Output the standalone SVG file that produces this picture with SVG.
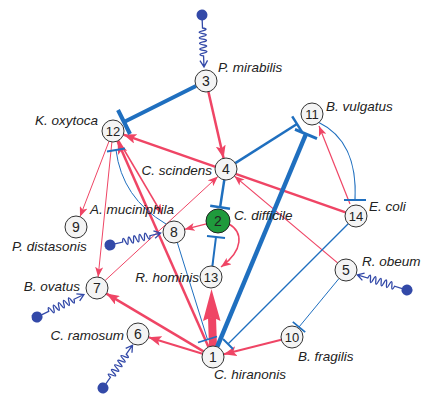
<svg xmlns="http://www.w3.org/2000/svg" xmlns:xlink="http://www.w3.org/1999/xlink" width="422" height="394" viewBox="0 0 422 394">
<style>
.p{stroke:#ef4565;fill:none}
.b{stroke:#1f6fbf;fill:none}
.n circle{fill:#f4f4f4;stroke:#333;stroke-width:1}
.num{font-family:"Liberation Sans",Arial,sans-serif;font-size:14px;fill:#222;text-anchor:middle}
.lab{font-family:"Liberation Sans",Arial,sans-serif;font-size:13.5px;font-style:italic;fill:#222}
</style>
<defs>
<marker id="aM" viewBox="0 0 13 10" refX="13" refY="5" markerWidth="13" markerHeight="10" markerUnits="userSpaceOnUse" orient="auto"><path d="M0,0 L13,5 L0,10 L3,5 Z" fill="#ef4565"/></marker>
<marker id="aS" viewBox="0 0 10 8" refX="10" refY="4" markerWidth="10" markerHeight="8" markerUnits="userSpaceOnUse" orient="auto"><path d="M0,0 L10,4 L0,8 L2.5,4 Z" fill="#ef4565"/></marker>
<g id="wave"><circle r="5.5" fill="#3349a8"/><path d="M5,0 L13,0 q1.4,-7 2.8,0 q1.4,7 2.8,0 q1.4,-7 2.8,0 q1.4,7 2.8,0 q1.4,-7 2.8,0 q1.4,7 2.8,0 q1.4,-7 2.8,0 q1.4,7 2.8,0 q1.4,-7 2.8,0 q1.4,7 2.8,0 L52,0 M45.5,-3.8 L52,0 L45.5,3.8" fill="none" stroke="#3349a8" stroke-width="1.3"/></g>
</defs>
<rect width="422" height="394" fill="#fff"/>
<g id="connectors">
<line class="p" x1="208.4" y1="91.7" x2="223.6" y2="158.3" stroke-width="2.5" marker-end="url(#aM)"/>
<line class="p" x1="109" y1="141.3" x2="80" y2="216.7" stroke-width="1" marker-end="url(#aS)"/>
<line class="p" x1="111.9" y1="142" x2="98.1" y2="277" stroke-width="1" marker-end="url(#aS)"/>
<line class="p" x1="118.6" y1="140.5" x2="162" y2="214" stroke-width="1.5" marker-end="url(#aS)"/>
<line class="p" x1="208.5" y1="347" x2="117.5" y2="141" stroke-width="2.5" marker-end="url(#aM)"/>
<line class="p" x1="345.6" y1="212.4" x2="123.4" y2="134.6" stroke-width="2.5" marker-end="url(#aM)"/>
<line class="p" x1="105.1" y1="280.5" x2="217.9" y2="176.5" stroke-width="1" marker-end="url(#aS)"/>
<line class="p" x1="337.6" y1="262.9" x2="234.4" y2="176.1" stroke-width="1.2" marker-end="url(#aS)"/>
<line class="p" x1="350" y1="204" x2="319" y2="126" stroke-width="1.2" marker-end="url(#aS)"/>
<line class="p" x1="281.3" y1="339.7" x2="223.7" y2="354.3" stroke-width="2" marker-end="url(#aM)"/>
<line class="p" x1="206.4" y1="223.9" x2="184.7" y2="229.3" stroke-width="1.2" marker-end="url(#aS)"/>
<path class="p" d="M229,224 C243,232 244,250 221,267" stroke-width="1.5" marker-end="url(#aS)"/>
<line class="p" x1="203.5" y1="351.4" x2="106.4" y2="293.6" stroke-width="2.5" marker-end="url(#aM)"/>
<line class="p" x1="202.5" y1="353.8" x2="148.5" y2="337.2" stroke-width="2" marker-end="url(#aM)"/>
<g id="e1_13"><line class="p" x1="213" y1="347" x2="212" y2="317" stroke-width="8"/><path d="M211.5,289 L220.5,321 L212,317 L203,321 Z" fill="#ef4565"/></g>
<g class="b">
<line x1="196" y1="86" x2="124" y2="122" stroke-width="4"/><line x1="118" y1="110" x2="130" y2="134" stroke-width="4"/>
<line x1="235.3" y1="163.1" x2="297" y2="124" stroke-width="2.5"/><line x1="292.2" y1="116.4" x2="301.8" y2="131.6" stroke-width="2.5"/>
<line x1="217.2" y1="346.8" x2="306" y2="134" stroke-width="4.5"/><line x1="295" y1="129.4" x2="317" y2="138.6" stroke-width="3"/>
<line x1="348.2" y1="223.8" x2="228" y2="344" stroke-width="1.3"/><line x1="223" y1="339" x2="233" y2="349" stroke-width="2"/>
<line x1="177.3" y1="242.5" x2="207.5" y2="339.5" stroke-width="1"/><line x1="198" y1="342.5" x2="217" y2="336.5" stroke-width="1.8"/>
<path d="M116,150 Q122,198 166,224" stroke-width="1"/><line x1="107" y1="151.5" x2="125" y2="148.5" stroke-width="1.8"/>
<path d="M318,122 C345,135 357,160 355,200" stroke-width="1.2"/><line x1="344" y1="200" x2="366" y2="200" stroke-width="2"/>
<line x1="339" y1="278.5" x2="299" y2="327" stroke-width="1"/><line x1="292.8" y1="321.9" x2="305.2" y2="332.1" stroke-width="1.8"/>
<line x1="224.3" y1="179.9" x2="220.1" y2="207.2" stroke-width="2.5"/><line x1="210.2" y1="205.7" x2="230" y2="208.7" stroke-width="2.5"/>
<line x1="212.4" y1="266.1" x2="216" y2="237" stroke-width="2"/><line x1="207" y1="235.9" x2="225" y2="238.1" stroke-width="2"/>
</g>
<use xlink:href="#wave" href="#wave" transform="translate(202,15) rotate(87.8)"/>
<use xlink:href="#wave" href="#wave" transform="translate(110,245) rotate(-13.2)"/>
<use xlink:href="#wave" href="#wave" transform="translate(37,317) rotate(-25.6)"/>
<use xlink:href="#wave" href="#wave" transform="translate(103,388) rotate(-55.4)"/>
<use xlink:href="#wave" href="#wave" transform="translate(407,290) rotate(-163)"/>
</g>
<g id="n1" class="n"><circle cx="213" cy="357" r="11"/><text class="num" x="213" y="362">1</text><text class="lab" x="214" y="379">C. hiranonis</text></g>
<g id="n2" class="n"><circle cx="218" cy="221" r="12" style="fill:#1f9a3c;stroke:#222"/><text class="num" x="218" y="226">2</text><text class="lab" x="234" y="220">C. difficile</text></g>
<g id="n3" class="n"><circle cx="206" cy="81" r="11"/><text class="num" x="206" y="86">3</text><text class="lab" x="218" y="72">P. mirabilis</text></g>
<g id="n4" class="n"><circle cx="226" cy="169" r="11"/><text class="num" x="226" y="174">4</text><text class="lab" x="212" y="175" text-anchor="end">C. scindens</text></g>
<g id="n5" class="n"><circle cx="346" cy="270" r="11"/><text class="num" x="346" y="275">5</text><text class="lab" x="362" y="266">R. obeum</text></g>
<g id="n6" class="n"><circle cx="138" cy="334" r="11"/><text class="num" x="138" y="339">6</text><text class="lab" x="124" y="340" text-anchor="end">C. ramosum</text></g>
<g id="n7" class="n"><circle cx="97" cy="288" r="11"/><text class="num" x="97" y="293">7</text><text class="lab" x="80" y="291" text-anchor="end">B. ovatus</text></g>
<g id="n8" class="n"><circle cx="174" cy="232" r="11"/><text class="num" x="174" y="237">8</text><text class="lab" x="90" y="214">A. muciniphila</text></g>
<g id="n9" class="n"><circle cx="76" cy="227" r="11"/><text class="num" x="76" y="232">9</text><text class="lab" x="12" y="251">P. distasonis</text></g>
<g id="n10" class="n"><circle cx="292" cy="337" r="11"/><text class="num" x="292" y="342" style="font-size:13px">10</text><text class="lab" x="298" y="361">B. fragilis</text></g>
<g id="n11" class="n"><circle cx="312" cy="114" r="11"/><text class="num" x="312" y="119" style="font-size:13px">11</text><text class="lab" x="326" y="111">B. vulgatus</text></g>
<g id="n12" class="n"><circle cx="113" cy="131" r="11"/><text class="num" x="113" y="136" style="font-size:13px">12</text><text class="lab" x="98" y="125" text-anchor="end">K. oxytoca</text></g>
<g id="n13" class="n"><circle cx="211" cy="277" r="11"/><text class="num" x="211" y="282" style="font-size:13px">13</text><text class="lab" x="199" y="282" text-anchor="end">R. hominis</text></g>
<g id="n14" class="n"><circle cx="356" cy="216" r="11"/><text class="num" x="356" y="221" style="font-size:13px">14</text><text class="lab" x="369" y="211">E. coli</text></g>
</svg>
